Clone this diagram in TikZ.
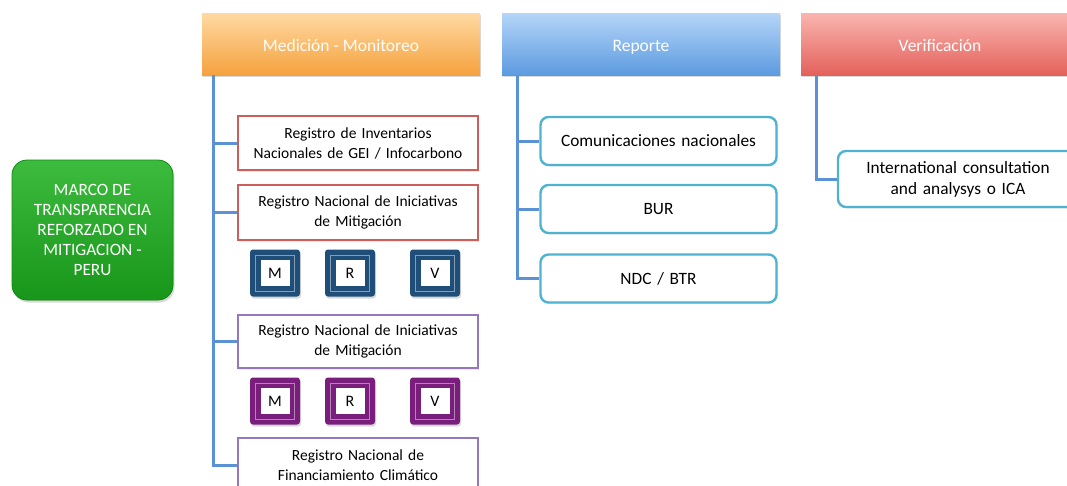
\documentclass[tikz,border=0pt]{standalone}
\usepackage{fontspec}
\setmainfont{Carlito}
\usetikzlibrary{shadows}
\definecolor{orTop}{HTML}{FFD9A3}
\definecolor{orBot}{HTML}{F5A23E}
\definecolor{blTop}{HTML}{B5D5F8}
\definecolor{blBot}{HTML}{5C9BE0}
\definecolor{rdTop}{HTML}{FAB5B0}
\definecolor{rdBot}{HTML}{E4615B}
\definecolor{grTop}{HTML}{3DBB3D}
\definecolor{grBot}{HTML}{17961A}
\definecolor{grBrd}{HTML}{128A16}
\definecolor{connC}{HTML}{5B92D3}
\definecolor{redBrd}{HTML}{CB5F5C}
\definecolor{purBrd}{HTML}{9578BB}
\definecolor{cyanBrd}{HTML}{4EB3CF}
\definecolor{navyC}{HTML}{1F4E79}
\definecolor{purC}{HTML}{7A1E7E}
\tikzset{
  hdr/.style={minimum width=278pt, minimum height=62pt, inner sep=0pt,
    text=white, font=\fontsize{17.5}{20}\selectfont,
    text height=16pt, text depth=1.2pt,
    drop shadow={opacity=0.3, shadow xshift=1pt, shadow yshift=-2pt}},
  sqbox/.style={draw=#1, line width=2pt, fill=white, minimum width=240pt,
    inner sep=0pt, align=center, text width=236pt,
    font=\fontsize{15.5}{20}\selectfont,
    drop shadow={opacity=0.18, shadow xshift=1pt, shadow yshift=-1.5pt}},
  rbox/.style={draw=cyanBrd, line width=2.4pt, fill=white, rounded corners=8pt,
    inner sep=0pt, align=center, text width=236pt,
    font=\fontsize{17.3}{21}\selectfont,
    drop shadow={opacity=0.18, shadow xshift=1pt, shadow yshift=-1.5pt}},
  mrv/.style={fill=#1, rounded corners=3pt, minimum width=50pt, minimum height=47pt,
    inner sep=0pt, font=\fontsize{16}{16}\selectfont,
    drop shadow={opacity=0.3, shadow xshift=1pt, shadow yshift=-2pt},
    path picture={
      \draw[sharp corners, line width=0.5pt, #1!55!white]
        ([shift={(5.5pt,-5.5pt)}]path picture bounding box.north west) rectangle
        ([shift={(-5.5pt,5.5pt)}]path picture bounding box.south east);
      \fill[sharp corners, white]
        ([shift={(10.5pt,-10.5pt)}]path picture bounding box.north west) rectangle
        ([shift={(-10.5pt,10.5pt)}]path picture bounding box.south east);
    }},
  conn/.style={draw=connC, line width=3pt}
}
\begin{document}
\begin{tikzpicture}[x=1pt,y=-1pt]
\useasboundingbox (0,0) rectangle (1067,485);

% left green box
\node[fill=grBot, top color=grTop, bottom color=grBot, draw=grBrd, line width=0.8pt,
  rounded corners=15pt, minimum width=161pt, minimum height=140pt, inner sep=0pt,
  align=center, text=white, font=\fontsize{17.3}{20}\selectfont,
  drop shadow={opacity=0.3, shadow xshift=1.5pt, shadow yshift=-2.5pt}]
  (marco) at (92.5,230) {MARCO DE\\TRANSPARENCIA\\REFORZADO EN\\MITIGACION -\\PERU};

% headers
\node[hdr, top color=orTop, bottom color=orBot] (h1) at (341,44) {Medición - Monitoreo};
\node[hdr, top color=blTop, bottom color=blBot] (h2) at (641,44) {Reporte};
\node[hdr, top color=rdTop, bottom color=rdBot] (h3) at (940,44) {Verificación};

% column 1
\node[sqbox=redBrd, minimum height=54pt] (b1) at (358,143) {Registro de Inventarios\\Nacionales de GEI / Infocarbono};
\node[sqbox=redBrd, minimum height=55pt] (b2) at (358,212.5) {Registro Nacional de Iniciativas\\de Mitigación};
\node[sqbox=purBrd, minimum height=53pt] (b3) at (358,341.5) {Registro Nacional de Iniciativas\\de Mitigación};
\node[sqbox=purBrd, minimum height=54pt] (b4) at (358,465) {Registro Nacional de\\Financiamiento Climático};

\node[mrv=navyC] (m1) at (275,273) {M};
\node[mrv=navyC] (r1) at (350,273) {R};
\node[mrv=navyC] (v1) at (435,273) {V};
\node[mrv=purC] (m2) at (275,401) {M};
\node[mrv=purC] (r2) at (350,401) {R};
\node[mrv=purC] (v2) at (435,401) {V};

\coordinate (c1) at (213,75);
\draw[conn] (c1) |- (b4.west);
\draw[conn] (c1) |- (b1.west);
\draw[conn] (c1) |- (b2.west);
\draw[conn] (c1) |- (b3.west);

% column 2
\node[rbox, minimum width=235pt, minimum height=48pt] (r2a) at (658.5,141) {Comunicaciones nacionales};
\node[rbox, minimum width=235pt, minimum height=48pt] (r2b) at (658.5,209) {BUR};
\node[rbox, minimum width=235pt, minimum height=48pt] (r2c) at (658.5,278.5) {NDC / BTR};

\coordinate (c2) at (517,75);
\draw[conn] (c2) |- (r2c.west);
\draw[conn] (c2) |- (r2a.west);
\draw[conn] (c2) |- (r2b.west);

% column 3
\node[rbox, minimum width=240pt, minimum height=56pt] (ica) at (958,179) {International consultation\\and analysys o ICA};
\coordinate (c3) at (816,75);
\draw[conn] (c3) |- (ica.west);
\end{tikzpicture}
\end{document}
